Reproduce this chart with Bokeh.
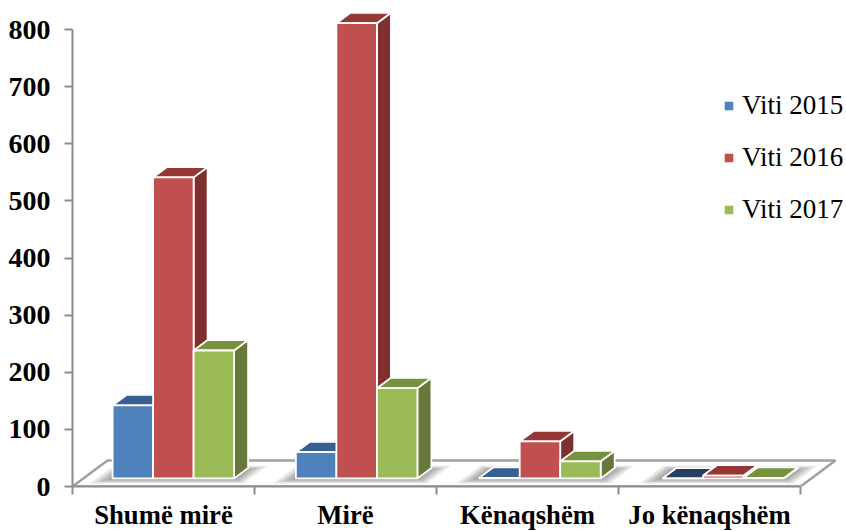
from bokeh.plotting import figure
from bokeh.models import FixedTicker, Legend, LegendItem, Range1d
from bokeh.embed import file_html
from bokeh.resources import INLINE

categories = ["Shumë mirë", "Mirë", "Kënaqshëm", "Jo kënaqshëm"]
label_positions = [0.5, 1.5, 2.5, 3.5]
y_ticks = [0, 100, 200, 300, 400, 500, 600, 700, 800]

viti_2015 = [128, 46, 1, 0]
viti_2016 = [527, 797, 65, 5]
viti_2017 = [224, 158, 30, 1]

series = [
    ("Viti 2015", viti_2015, "#4F81BD", "#376092", "#2F5480"),
    ("Viti 2016", viti_2016, "#C0504D", "#953735", "#7F2F2D"),
    ("Viti 2017", viti_2017, "#9BBB59", "#76923C", "#66793A"),
]
flat_top_2015 = "#243F60"

WIDTH, HEIGHT = 846, 531
LEFT, BOTTOM = 72, 45
PX_X, PX_Y = 182.0, 0.57125          # pixels per category, pixels per value unit
DEPTH_X, DEPTH_Y = 35 / PX_X, 26 / PX_Y   # oblique projection of the floor depth
FRONT, BACK = 0.31, 0.71             # bar depth inside the floor
BAR_W = 40.5 / PX_X
MARGIN = (1 - 3 * BAR_W) / 2 - 1 / PX_X
CLUSTER_STEP = 183.3 / PX_X          # clusters sit slightly wider apart than the ticks


def px(u, d):
    return u + d * DEPTH_X


def py(v, d):
    return v + d * DEPTH_Y


p = figure(
    width=WIDTH, height=HEIGHT, output_backend="svg", toolbar_location=None,
    x_range=Range1d(0, (WIDTH - LEFT) / PX_X),
    y_range=Range1d(0, (HEIGHT - BOTTOM) / PX_Y),
    frame_width=WIDTH - LEFT, frame_height=HEIGHT - BOTTOM,
    min_border_left=LEFT, min_border_bottom=BOTTOM, min_border_top=0, min_border_right=0,
)
p.grid.visible = False
p.outline_line_color = None
p.background_fill_color = "white"

# floor slab
p.patch(
    [px(0, 0), px(4, 0), px(4, 1), px(0, 1)],
    [py(0, 0), py(0, 0), py(0, 1), py(0, 1)],
    fill_color="white", line_color="#A0A0A0", line_width=2.5,
)

# soft shadow under each cluster, built from stacked translucent slabs
for c in range(4):
    x0 = c * CLUSTER_STEP + MARGIN
    x1 = x0 + 3 * BAR_W
    for grow in (16, 12, 9, 6, 3, 0):
        gx = grow / PX_X
        gd = grow * 0.012
        d0, d1 = FRONT - gd, BACK - 0.1 + gd
        p.patch(
            [px(x0 - gx, d0), px(x1 + gx, d0), px(x1 + gx, d1), px(x0 - gx, d1)],
            [py(0, d0), py(0, d0), py(0, d1), py(0, d1)],
            fill_color="#606060", fill_alpha=0.15, line_color=None,
        )

legend_items = []
for s, (name, values, front, top, side) in enumerate(series):
    lefts = [c * CLUSTER_STEP + MARGIN + s * BAR_W for c in range(len(values))]
    rights = [u + BAR_W for u in lefts]

    side_xs = [[px(r, FRONT), px(r, BACK), px(r, BACK), px(r, FRONT)] for r in rights]
    side_ys = [[py(0, FRONT), py(0, BACK), py(v, BACK), py(v, FRONT)] for v in values]
    p.patches(side_xs, side_ys, fill_color=side, line_color="white", line_width=1.8)

    top_xs = [[px(l, FRONT), px(r, FRONT), px(r, BACK), px(l, BACK)] for l, r in zip(lefts, rights)]
    top_ys = [[py(v, FRONT), py(v, FRONT), py(v, BACK), py(v, BACK)] for v in values]
    tops = [flat_top_2015 if (s == 0 and v == 0) else top for v in values]
    p.patches(top_xs, top_ys, fill_color=tops, line_color="white", line_width=1.8)

    bars = p.quad(
        left=[px(u, FRONT) for u in lefts], right=[px(u, FRONT) for u in rights],
        bottom=[py(0, FRONT)] * len(values), top=[py(v, FRONT) for v in values],
        fill_color=front, line_color="white", line_width=1.8,
    )
    legend_items.append(LegendItem(label=name, renderers=[bars]))

AXIS = "#8C8C8C"
p.yaxis.ticker = FixedTicker(ticks=y_ticks)
p.yaxis.bounds = (0, 800)
p.yaxis.axis_line_color = AXIS
p.yaxis.axis_line_width = 2
p.yaxis.major_tick_line_color = AXIS
p.yaxis.major_tick_line_width = 2
p.yaxis.major_tick_out = 8
p.yaxis.major_tick_in = 0
p.yaxis.minor_tick_line_color = None
p.yaxis.major_label_standoff = 14
p.yaxis.major_label_text_font = "Liberation Serif"
p.yaxis.major_label_text_font_style = "bold"
p.yaxis.major_label_text_font_size = "28px"
p.yaxis.major_label_text_color = "black"

p.xaxis.ticker = FixedTicker(ticks=label_positions, minor_ticks=[0, 1, 2, 3, 4])
p.xaxis.bounds = (0, 4)
p.xaxis.major_label_overrides = dict(zip(label_positions, categories))
p.xaxis.axis_line_color = AXIS
p.xaxis.axis_line_width = 2
p.xaxis.major_tick_line_color = None
p.xaxis.major_tick_out = 8
p.xaxis.major_tick_in = 0
p.xaxis.minor_tick_line_color = AXIS
p.xaxis.minor_tick_line_width = 2
p.xaxis.minor_tick_out = 8
p.xaxis.minor_tick_in = 0
p.xaxis.major_label_standoff = 5
p.xaxis.major_label_text_font = "Liberation Serif"
p.xaxis.major_label_text_font_style = "bold"
p.xaxis.major_label_text_font_size = "26.7px"
p.xaxis.major_label_text_color = "black"

legend = Legend(
    items=legend_items, location=(650, 261), orientation="vertical",
    background_fill_alpha=0, border_line_color=None,
    glyph_width=13, glyph_height=13, label_text_font="Liberation Serif",
    label_text_font_size="27px", label_text_color="black",
    label_standoff=7, spacing=21, margin=0, padding=0,
)
p.add_layout(legend, "center")

open("out.html", "w").write(file_html(p, INLINE))
